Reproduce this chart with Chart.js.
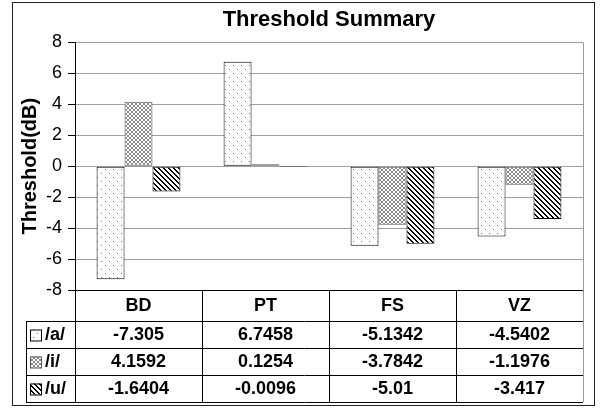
<!DOCTYPE html>
<html>
<head>
<meta charset="utf-8">
<script src="https://cdn.jsdelivr.net/npm/chart.js@4.4.1/dist/chart.umd.min.js"></script>
<style>
  body { margin: 0; background: #fff; }
  #wrap { width: 604px; height: 408px; }
</style>
</head>
<body>
<div id="wrap"><canvas id="chart" width="604" height="408"></canvas></div>
<script>
// data
const categories = ['BD', 'PT', 'FS', 'VZ'];
const seriesNames = ['/a/', '/i/', '/u/'];
const valuesA = [-7.305, 6.7458, -5.1342, -4.5402];
const valuesI = [4.1592, 0.1254, -3.7842, -1.1976];
const valuesU = [-1.6404, -0.0096, -5.01, -3.417];
const yMin = -8;
const yMax = 8;
const yStep = 2;

const FONT = 'Arial, "Liberation Sans", sans-serif';

// small fill patterns like the excel ones
function makePattern(kind) {
  const c = document.createElement('canvas');
  const ctx = c.getContext('2d');
  let s = 8;
  if (kind === 'cross') s = 4;
  if (kind === 'stripe') s = 5;
  c.width = s; c.height = s;
  ctx.fillStyle = '#fff';
  ctx.fillRect(0, 0, s, s);
  if (kind === 'dots') {
    ctx.fillStyle = '#777';
    ctx.fillRect(1, 1, 1, 1);
    ctx.fillRect(5, 5, 1, 1);
  } else if (kind === 'cross') {
    ctx.fillStyle = '#888';
    for (let i = 0; i < s; i++) {
      ctx.fillRect(i, i, 1, 1);
      ctx.fillRect(s - 1 - i, i, 1, 1);
    }
  } else {
    ctx.fillStyle = '#000';
    for (let i = 0; i < s; i++) {
      ctx.fillRect(i, i, 1, 1);
      ctx.fillRect((i + 1) % s, i, 1, 1);
    }
  }
  return document.createElement('canvas').getContext('2d').createPattern(c, 'repeat');
}

const patterns = [makePattern('dots'), makePattern('cross'), makePattern('stripe')];
const borders = ['#000', '#555', '#000'];
const seriesValues = [valuesA, valuesI, valuesU];

// frame + white background
const framePlugin = {
  id: 'frame',
  beforeDraw(chart) {
    const ctx = chart.ctx;
    ctx.save();
    ctx.fillStyle = '#fff';
    ctx.fillRect(0, 0, chart.width, chart.height);
    ctx.restore();
  },
  afterDraw(chart) {
    const ctx = chart.ctx;
    ctx.save();
    ctx.strokeStyle = '#222';
    ctx.lineWidth = 1;
    ctx.strokeRect(12.5, 2.5, 582, 403);
    ctx.restore();
  }
};

// data table under the plot
const tablePlugin = {
  id: 'dataTable',
  afterDraw(chart) {
    const ctx = chart.ctx;
    const ca = chart.chartArea;
    const x = chart.scales.x;
    const colW = (ca.right - ca.left) / categories.length;
    const tableLeft = 26;
    const headBottom = ca.bottom + 31;
    const rowH = 27;
    const tableBottom = headBottom + rowH * seriesNames.length;

    ctx.save();
    ctx.lineWidth = 1;

    // plot border right (gray), runs down through the table
    ctx.strokeStyle = '#999';
    ctx.beginPath();
    ctx.moveTo(Math.round(ca.right) + 0.5, ca.top);
    ctx.lineTo(Math.round(ca.right) + 0.5, tableBottom);
    ctx.stroke();

    ctx.strokeStyle = '#000';
    ctx.beginPath();
    ctx.moveTo(ca.left, Math.round(ca.bottom) + 0.5);
    ctx.lineTo(ca.right, Math.round(ca.bottom) + 0.5);
    for (let k = 0; k < categories.length; k++) {
      const xx = Math.round(ca.left + k * colW) + 0.5;
      ctx.moveTo(xx, ca.bottom);
      ctx.lineTo(xx, tableBottom);
    }
    for (let r = 0; r <= seriesNames.length; r++) {
      const yy = Math.round(headBottom + r * rowH) + 0.5;
      ctx.moveTo(tableLeft, yy);
      ctx.lineTo(ca.right, yy);
    }
    ctx.moveTo(tableLeft + 0.5, headBottom);
    ctx.lineTo(tableLeft + 0.5, tableBottom);
    ctx.stroke();

    ctx.fillStyle = '#000';
    ctx.font = 'bold 18px ' + FONT;
    ctx.textAlign = 'center';
    ctx.textBaseline = 'middle';
    categories.forEach((c, i) => {
      ctx.fillText(c, x.getPixelForValue(i), (ca.bottom + headBottom) / 2 + 1);
    });

    seriesNames.forEach((name, r) => {
      const cy = headBottom + r * rowH + rowH / 2 + 1;
      // legend swatch
      ctx.fillStyle = patterns[r];
      ctx.fillRect(30, cy - 6, 11, 11);
      ctx.strokeStyle = borders[r];
      ctx.strokeRect(30.5, cy - 5.5, 11, 11);
      ctx.fillStyle = '#000';
      ctx.textAlign = 'left';
      ctx.fillText(name, 45, cy);
      ctx.textAlign = 'center';
      seriesValues[r].forEach((v, i) => {
        ctx.fillText(String(v), x.getPixelForValue(i), cy);
      });
    });
    ctx.restore();
  }
};

const datasets = seriesNames.map((name, i) => ({
  label: name,
  data: seriesValues[i],
  backgroundColor: patterns[i],
  borderColor: borders[i],
  borderWidth: 1,
  borderSkipped: false,
  categoryPercentage: 0.66,
  barPercentage: 1.0
}));

new Chart(document.getElementById('chart'), {
  type: 'bar',
  data: { labels: categories, datasets: datasets },
  options: {
    responsive: false,
    animation: false,
    layout: { padding: { left: 0, right: 21, top: 0, bottom: 118 } },
    plugins: {
      legend: { display: false },
      tooltip: { enabled: false },
      title: {
        display: true,
        text: 'Threshold Summary',
        color: '#000',
        fullSize: false,
        font: { family: FONT, size: 22, weight: 'bold' },
        padding: { top: 7, bottom: 9 }
      }
    },
    scales: {
      x: {
        grid: { display: false },
        border: { display: false },
        ticks: { display: false },
        afterFit: (s) => { s.height = 0; }
      },
      y: {
        min: yMin,
        max: yMax,
        ticks: { stepSize: yStep, color: '#000', font: { family: FONT, size: 18 }, padding: 6 },
        grid: { color: '#a0a0a0', tickColor: '#000', tickLength: 7 },
        border: { color: '#000' },
        title: {
          display: true,
          text: 'Threshold(dB)',
          color: '#000',
          font: { family: FONT, size: 20, weight: 'bold' },
          padding: { top: 18, bottom: 0 }
        },
        afterFit: (s) => { s.width = 75; }
      }
    }
  },
  plugins: [framePlugin, tablePlugin]
});
</script>
</body>
</html>
